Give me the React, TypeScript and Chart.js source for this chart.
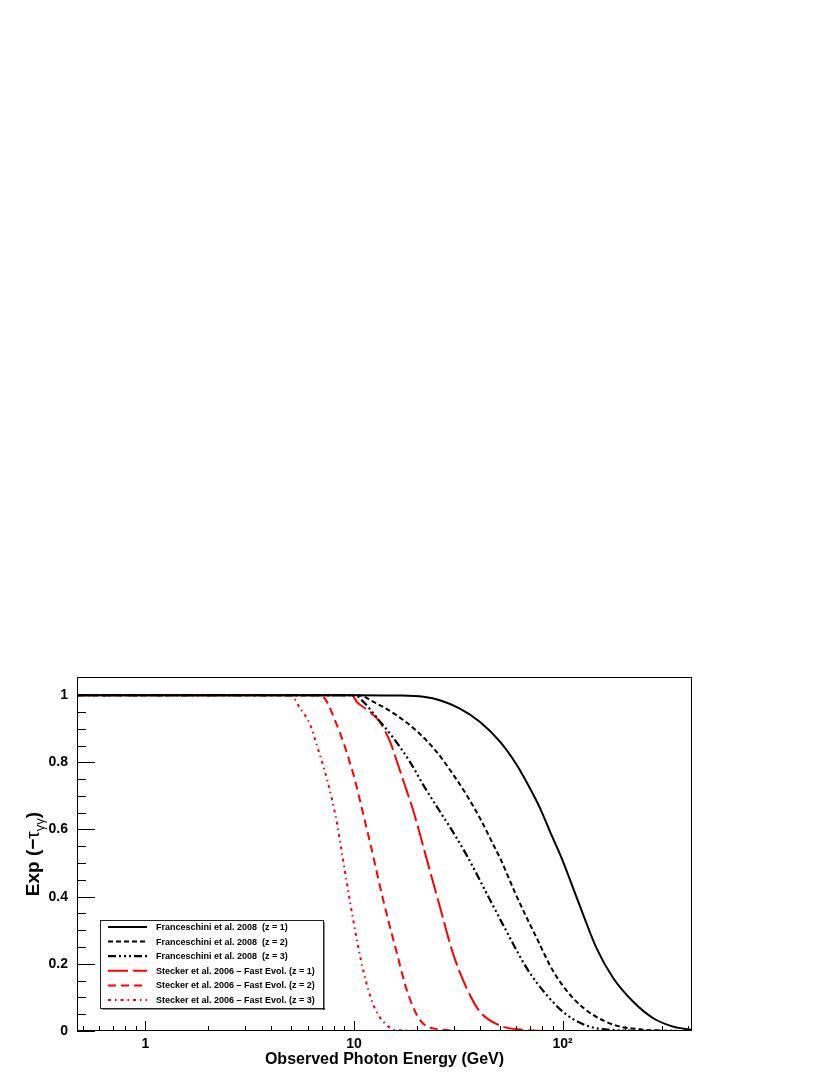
import React, { useEffect, useRef } from "react";
import { Chart, registerables } from "chart.js";

Chart.register(...registerables);

// ---- data ----
const fr1E = [0.47, 10, 17, 21.5, 26, 32.2, 40.2, 50.2, 60.3, 69.8, 78, 87.1, 99, 108.5, 125.7, 145.5, 175, 218, 272, 339, 417];
const fr1T = [1, 1, 0.999, 0.995, 0.984, 0.96, 0.92, 0.861, 0.792, 0.722, 0.663, 0.593, 0.514, 0.45, 0.345, 0.246, 0.157, 0.087, 0.038, 0.013, 0.003];

const fr2E = [0.47, 10.5, 12.4, 16.0, 20.0, 24.9, 30.0, 34.7, 40.2, 46.6, 50.2, 60.3, 75.2, 90.3, 112.5, 140, 181, 235, 300, 417];
const fr2T = [1, 1, 0.98, 0.94, 0.893, 0.831, 0.762, 0.702, 0.633, 0.554, 0.514, 0.4, 0.276, 0.177, 0.097, 0.048, 0.016, 0.005, 0.001, 0];

const fr3E = [0.47, 10.1, 11.1, 13.3, 15.5, 18.6, 21.5, 25.9, 30.0, 34.7, 44.9, 53.9, 67.3, 83.9, 104.6, 135, 175, 250, 417];
const fr3T = [1, 1, 0.98, 0.922, 0.871, 0.8, 0.732, 0.652, 0.59, 0.523, 0.39, 0.296, 0.187, 0.107, 0.048, 0.013, 0.003, 0.0005, 0];

const st1E = [0.47, 9.77, 10.3, 11.95, 13.3, 14.9, 15.5, 17.3, 19.3, 21.9, 25.9, 30.0, 34.7, 40.2, 50.2, 64, 100, 417];
const st1T = [1, 1, 0.98, 0.95, 0.92, 0.861, 0.831, 0.742, 0.653, 0.53, 0.366, 0.226, 0.127, 0.057, 0.016, 0.004, 0, 0];

const st2E = [0.47, 6.89, 8.28, 9.95, 11.1, 11.95, 13.8, 16.0, 17.9, 20.7, 24.9, 40, 417];
const st2T = [1, 1, 0.911, 0.762, 0.643, 0.56, 0.39, 0.235, 0.122, 0.033, 0.006, 0, 0];

const st3E = [0.47, 4.95, 5.53, 6.17, 6.64, 7.42, 8.28, 8.75, 9.95, 11.1, 12.4, 13.8, 16.0, 25, 417];
const st3T = [1, 1, 0.96, 0.911, 0.85, 0.75, 0.62, 0.53, 0.325, 0.177, 0.077, 0.028, 0.003, 0, 0];

const seriesLabels = [
  "Franceschini et al. 2008  (z = 1)",
  "Franceschini et al. 2008  (z = 2)",
  "Franceschini et al. 2008  (z = 3)",
  "Stecker et al. 2006 \u2013 Fast Evol. (z = 1)",
  "Stecker et al. 2006 \u2013 Fast Evol. (z = 2)",
  "Stecker et al. 2006 \u2013 Fast Evol. (z = 3)",
];

const xTickValues = [1, 10, 100];
const xTickLabels = ["1", "10", "10\u00b2"];
const yTickValues = [0, 0.2, 0.4, 0.6, 0.8, 1];
const yTickLabels = ["0", "0.2", "0.4", "0.6", "0.8", "1"];

const xTitle = "Observed Photon Energy (GeV)";

const X_MIN = 0.47;
const X_MAX = 417;
const Y_MIN = 0;
const Y_MAX = 1.054;

const FONT = "'Liberation Sans', Arial, Helvetica, sans-serif";

const toPts = (xs: number[], ys: number[]) => xs.map((x, i) => ({ x, y: ys[i] }));

const rootPlugin = {
  id: "rootDecor",
  afterDatasetsDraw(chart: any) {
    const { ctx, chartArea: a, scales } = chart;
    const xs = scales.x;
    const ys = scales.y;
    ctx.save();
    ctx.strokeStyle = "#000";
    ctx.lineWidth = 1;
    ctx.strokeRect(a.left + 0.5, a.top + 0.5, a.right - a.left - 1, a.bottom - a.top - 1);
    ctx.beginPath();
    for (let i = 0; i <= 20; i++) {
      const v = i * 0.05;
      const py = Math.round(ys.getPixelForValue(v)) + 0.5;
      const len = i % 4 === 0 ? 18 : 9;
      ctx.moveTo(a.left, py);
      ctx.lineTo(a.left + len, py);
    }
    for (const d of [0.1, 1, 10, 100]) {
      for (let k = 1; k <= 9; k++) {
        const v = k * d;
        if (v < X_MIN || v > X_MAX) continue;
        const px = Math.round(xs.getPixelForValue(v)) + 0.5;
        const len = k === 1 ? 10 : 5;
        ctx.moveTo(px, a.bottom);
        ctx.lineTo(px, a.bottom - len);
      }
    }
    ctx.stroke();
    ctx.restore();
  },
  afterDraw(chart: any) {
    const { ctx, chartArea: a } = chart;
    ctx.save();
    ctx.fillStyle = "#000";
    ctx.font = `bold 16px ${FONT}`;
    ctx.textAlign = "center";
    ctx.textBaseline = "alphabetic";
    ctx.fillText(xTitle, (a.left + a.right) / 2, 1064);

    ctx.save();
    ctx.translate(32, (a.top + a.bottom) / 2);
    ctx.rotate(-Math.PI / 2);
    ctx.textAlign = "left";
    const parts = [
      { t: "Exp (", f: `bold 19px ${FONT}`, dy: 0 },
      { t: "\u2212", f: `bold 19px ${FONT}`, dy: 0 },
      { t: "\u03c4", f: `19px ${FONT}`, dy: 0 },
      { t: "\u03b3\u03b3", f: `13px ${FONT}`, dy: 5 },
      { t: ")", f: `bold 19px ${FONT}`, dy: 0 },
    ];
    let total = 0;
    const widths = parts.map((p) => {
      ctx.font = p.f;
      const w = ctx.measureText(p.t).width;
      total += w;
      return w;
    });
    let cx = -total / 2;
    parts.forEach((p, i) => {
      ctx.font = p.f;
      ctx.fillText(p.t, cx, 7 + p.dy);
      cx += widths[i];
    });
    ctx.restore();

    const bx = 100, by = 920, bw = 223, bh = 88;
    ctx.fillStyle = "#fff";
    ctx.fillRect(bx, by, bw, bh);
    ctx.fillStyle = "#222";
    ctx.fillRect(bx + 2, by + bh, bw, 1.5);
    ctx.fillRect(bx + bw, by + 2, 1.5, bh);
    ctx.strokeStyle = "#222";
    ctx.lineWidth = 1;
    ctx.strokeRect(bx + 0.5, by + 0.5, bw, bh);
    chart.data.datasets.forEach((ds: any, i: number) => {
      const y = 927 + i * 14.6;
      ctx.save();
      ctx.strokeStyle = ds.borderColor;
      ctx.lineWidth = ds.borderWidth;
      ctx.setLineDash(ds.borderDash || []);
      ctx.beginPath();
      ctx.moveTo(108, y);
      ctx.lineTo(147, y);
      ctx.stroke();
      ctx.restore();
      ctx.fillStyle = "#000";
      ctx.font = `bold 9px ${FONT}`;
      ctx.textAlign = "left";
      ctx.textBaseline = "middle";
      ctx.fillText(ds.label, 156, y + 0.5);
    });
    ctx.restore();
  },
};

export default function App() {
  const ref = useRef<HTMLCanvasElement | null>(null);
  useEffect(() => {
    if (!ref.current) return;
    const common = { pointRadius: 0, fill: false, cubicInterpolationMode: "monotone" as const };
    const chart = new Chart(ref.current, {
      type: "line",
      data: {
        datasets: [
          { ...common, label: seriesLabels[0], data: toPts(fr1E, fr1T), borderColor: "#000", borderWidth: 2, borderDash: [] },
          { ...common, label: seriesLabels[1], data: toPts(fr2E, fr2T), borderColor: "#000", borderWidth: 2, borderDash: [5, 3] },
          { ...common, label: seriesLabels[2], data: toPts(fr3E, fr3T), borderColor: "#000", borderWidth: 2.2, borderDash: [8, 3, 2, 3, 2, 3, 2, 3] },
          { ...common, label: seriesLabels[3], data: toPts(st1E, st1T), borderColor: "#ff0000", borderWidth: 2, borderDash: [20, 5] },
          { ...common, label: seriesLabels[4], data: toPts(st2E, st2T), borderColor: "#ff0000", borderWidth: 2, borderDash: [8, 5] },
          { ...common, label: seriesLabels[5], data: toPts(st3E, st3T), borderColor: "#ff0000", borderWidth: 2, borderDash: [3, 4, 1.5, 4] },
        ] as any,
      },
      options: {
        animation: false,
        responsive: false,
        devicePixelRatio: 1,
        layout: { padding: { top: 677, right: 138, left: 0, bottom: 0 } },
        plugins: { legend: { display: false }, tooltip: { enabled: false }, title: { display: false } },
        scales: {
          x: {
            type: "logarithmic",
            min: X_MIN,
            max: X_MAX,
            grid: { display: false, drawTicks: false },
            border: { display: false },
            afterBuildTicks: (s: any) => {
              s.ticks = xTickValues.map((v) => ({ value: v }));
            },
            afterFit: (s: any) => {
              s.height = 44;
            },
            ticks: {
              autoSkip: false,
              maxRotation: 0,
              padding: 5,
              color: "#000",
              font: { family: FONT, size: 14, weight: "bold" },
              callback: (v: any) => {
                const i = xTickValues.indexOf(Number(v));
                return i >= 0 ? xTickLabels[i] : "";
              },
            },
          },
          y: {
            type: "linear",
            min: Y_MIN,
            max: Y_MAX,
            grid: { display: false, drawTicks: false },
            border: { display: false },
            afterBuildTicks: (s: any) => {
              s.ticks = yTickValues.map((v) => ({ value: v }));
            },
            afterFit: (s: any) => {
              s.width = 77;
            },
            ticks: {
              padding: 9,
              color: "#000",
              font: { family: FONT, size: 14, weight: "bold" },
              callback: (v: any) => {
                const i = yTickValues.findIndex((t) => Math.abs(t - Number(v)) < 1e-9);
                return i >= 0 ? yTickLabels[i] : "";
              },
            },
          },
        },
      } as any,
      plugins: [rootPlugin],
    });
    return () => chart.destroy();
  }, []);
  return (
    <div style={{ position: "absolute", left: 0, top: 0, width: 830, height: 1075, background: "#fff" }}>
      <canvas ref={ref} width={830} height={1075} style={{ display: "block", width: 830, height: 1075 }} />
    </div>
  );
}
